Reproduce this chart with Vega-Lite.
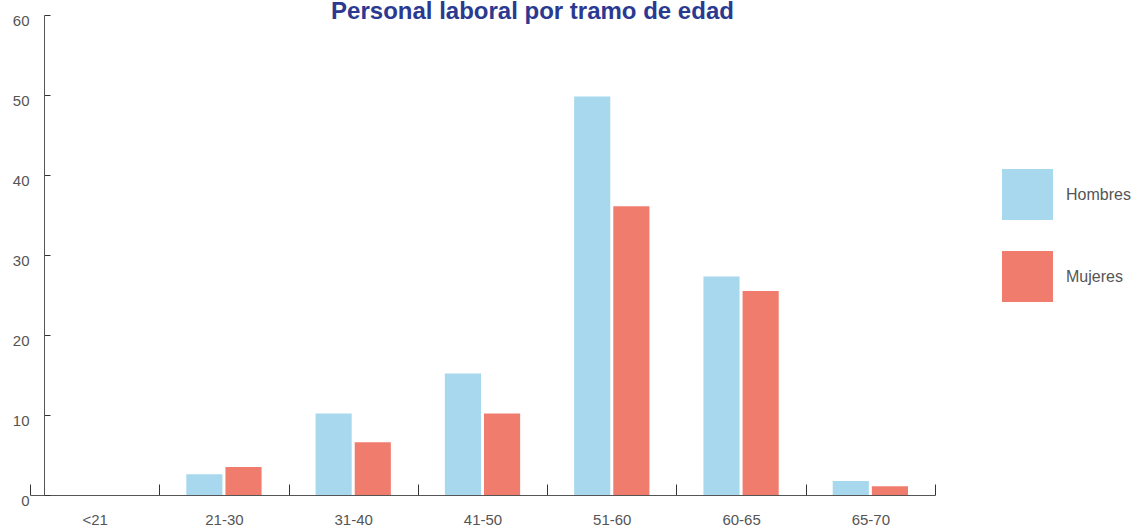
{
  "$schema": "https://vega.github.io/schema/vega-lite/v6.json",
  "width": 905,
  "height": 480,
  "autosize": {"type": "none"},
  "padding": {"left": 30, "top": 15, "right": 196, "bottom": 32},
  "background": "white",
  "title": {
    "text": "Personal laboral por tramo de edad",
    "color": "#2b3990",
    "fontSize": 24,
    "font": "Liberation Sans",
    "fontWeight": "bold",
    "anchor": "middle",
    "dx": 50,
    "offset": -11
  },
  "data": {
    "values": [
      {"tramo": "<21", "sexo": "Hombres", "valor": 0},
      {"tramo": "<21", "sexo": "Mujeres", "valor": 0},
      {"tramo": "21-30", "sexo": "Hombres", "valor": 2.6},
      {"tramo": "21-30", "sexo": "Mujeres", "valor": 3.5},
      {"tramo": "31-40", "sexo": "Hombres", "valor": 10.2},
      {"tramo": "31-40", "sexo": "Mujeres", "valor": 6.6},
      {"tramo": "41-50", "sexo": "Hombres", "valor": 15.2},
      {"tramo": "41-50", "sexo": "Mujeres", "valor": 10.2},
      {"tramo": "51-60", "sexo": "Hombres", "valor": 49.8},
      {"tramo": "51-60", "sexo": "Mujeres", "valor": 36.1},
      {"tramo": "60-65", "sexo": "Hombres", "valor": 27.3},
      {"tramo": "60-65", "sexo": "Mujeres", "valor": 25.5},
      {"tramo": "65-70", "sexo": "Hombres", "valor": 1.75},
      {"tramo": "65-70", "sexo": "Mujeres", "valor": 1.1}
    ]
  },
  "mark": {"type": "bar"},
  "encoding": {
    "x": {
      "field": "tramo",
      "type": "nominal",
      "sort": ["<21", "21-30", "31-40", "41-50", "51-60", "60-65", "65-70"],
      "scale": {"paddingInner": 0, "paddingOuter": 0},
      "axis": {
        "title": null,
        "labelAngle": 0,
        "tickBand": "extent",
        "tickSize": -11,
        "tickColor": "#333333",
        "domainColor": "#555555",
        "labelPadding": 28,
        "labelFontSize": 15,
        "labelFont": "Liberation Sans",
        "labelColor": "#555555"
      }
    },
    "xOffset": {
      "field": "sexo",
      "type": "nominal",
      "sort": ["Hombres", "Mujeres"],
      "scale": {"paddingInner": 0.077, "paddingOuter": 0.69}
    },
    "y": {
      "field": "valor",
      "type": "quantitative",
      "scale": {"domain": [0, 60]},
      "axis": {
        "title": null,
        "offset": -14,
        "values": [0, 10, 20, 30, 40, 50, 60],
        "grid": false,
        "tickSize": -6,
        "tickColor": "#333333",
        "domainColor": "#555555",
        "labelPadding": 21,
        "labelOffset": 5,
        "labelFontSize": 15,
        "labelFont": "Liberation Sans",
        "labelColor": "#555555"
      }
    },
    "color": {
      "field": "sexo",
      "type": "nominal",
      "sort": ["Hombres", "Mujeres"],
      "scale": {"domain": ["Hombres", "Mujeres"], "range": ["#a8d8ee", "#f07c6e"]},
      "legend": {
        "title": null,
        "orient": "none",
        "legendX": 972,
        "legendY": 154,
        "symbolType": "square",
        "symbolSize": 2600,
        "symbolStrokeWidth": 0,
        "symbolOpacity": 1,
        "rowPadding": 31,
        "labelOffset": 13,
        "labelFontSize": 16,
        "labelFont": "Liberation Sans",
        "labelColor": "#555555",
        "padding": 0
      }
    }
  },
  "config": {"view": {"stroke": null}}
}
